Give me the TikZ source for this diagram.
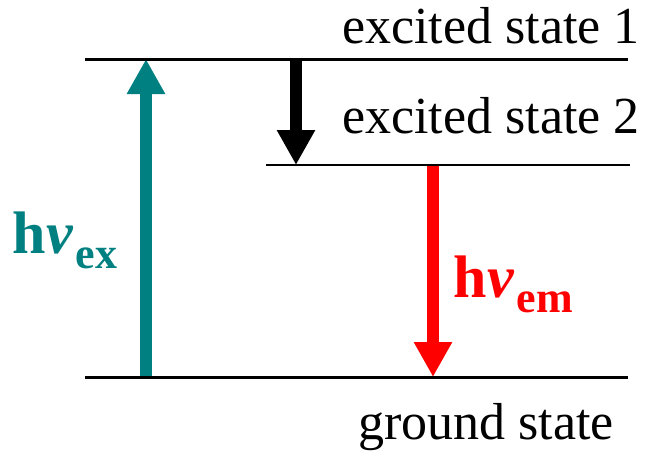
\documentclass[tikz,border=0pt]{standalone}
\usepackage{fontspec}
\setmainfont{Liberation Serif}
\usetikzlibrary{arrows.meta}

\begin{document}
\begin{tikzpicture}[
  x=0.5pt, y=-0.5pt,
  every node/.style={font=\fontsize{26}{30}\selectfont, inner sep=0pt},
  levelline/.style={line width=#1, black},
  jump/.style={line width=6pt, draw=#1, -{Triangle[length=17.5pt,width=18pt,fill=#1]}}
]
\useasboundingbox (0,0) rectangle (653,450);
\def\hnu#1#2{%
  \textbf{{\fontsize{30}{30}\selectfont h\kern0.5pt\textit{ν}\kern1pt}\raisebox{-7.5pt}{\fontsize{22}{22}\selectfont #2}}}
% ends of the levels
\coordinate (e1L) at (85,59);   \coordinate (e1R) at (628,59);
\coordinate (e2L) at (266,165); \coordinate (e2R) at (630,165);
\coordinate (gsL) at (85,377);  \coordinate (gsR) at (628,377);
% ends of the transitions
\coordinate (absBot) at (146,377); \coordinate (absTop) at (146,59);
\coordinate (icTop) at (296,59);   \coordinate (icBot) at (296,165);
\coordinate (emTop) at (433,165);  \coordinate (emBot) at (433,377);
\draw[jump=teal] (absBot) -- (absTop);
\draw[jump=black] (icTop) -- (icBot);
\draw[jump=red] (emTop) -- (emBot);
\draw[levelline=1.5pt] (e1L) -- (e1R);
\draw[levelline=0.75pt] (e2L) -- (e2R);
\draw[levelline=1.5pt] (gsL) -- (gsR);
% labels
\node[anchor=base east] (e1lab) at (640,43) {excited state 1};
\node[anchor=base east] (e2lab) at (640,133) {excited state 2};
\node[anchor=base west] (gslab) at (358,439) {ground state};
\node[anchor=base west, text=teal] (exlab) at (12,253) {\hnu{teal}{ex}};
\node[anchor=base west, text=red] (emlab) at (453,297) {\hnu{red}{em}};
\end{tikzpicture}
\end{document}
